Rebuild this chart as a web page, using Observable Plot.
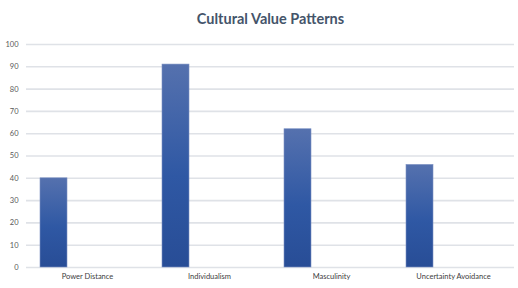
<!DOCTYPE html>
<html>
<head>
<meta charset="utf-8">
<script src="https://cdn.jsdelivr.net/npm/d3@7"></script>
<script src="https://cdn.jsdelivr.net/npm/@observablehq/plot@0.6"></script>
<style>
  html, body { margin: 0; padding: 0; background: #ffffff; }
  #chart svg { display: block; }
</style>
</head>
<body>
<div id="chart"></div>
<script>
const title = "Cultural Value Patterns";
const categories = ["Power Distance", "Individualism", "Masculinity", "Uncertainty Avoidance"];
const values = [40, 91, 62, 46];
const yTicks = [0, 10, 20, 30, 40, 50, 60, 70, 80, 90, 100];

const data = categories.map((c, i) => ({ category: c, value: values[i] }));

const defs = () => {
  const d = d3.create("svg:defs");
  const g = d.append("linearGradient")
    .attr("id", "barGrad")
    .attr("x1", 0).attr("y1", 0).attr("x2", 0).attr("y2", 1);
  g.append("stop").attr("offset", "0%").attr("stop-color", "#5571ae");
  g.append("stop").attr("offset", "55%").attr("stop-color", "#2f58a4");
  g.append("stop").attr("offset", "100%").attr("stop-color", "#284d96");
  return d.node();
};

const chart = Plot.plot({
  width: 518,
  height: 288,
  marginTop: 44,
  marginBottom: 21,
  marginLeft: 26,
  marginRight: 4,
  style: { fontFamily: "Lato, 'Open Sans', sans-serif", background: "#ffffff" },
  x: { domain: categories, padding: 0, label: null, tickSize: 0, tickPadding: 5 },
  y: { domain: [0, 100], ticks: yTicks, label: null, tickSize: 0, tickPadding: 8 },
  marks: [
    defs,
    Plot.gridY(yTicks, { stroke: "#dfe2e7", strokeOpacity: 1, strokeWidth: 1.6 }),
    Plot.barY(data, {
      x: "category", y: "value",
      insetLeft: 14, insetRight: 81,
      fill: "url(#barGrad)",
      stroke: "#7d92c4", strokeWidth: 0.6
    }),
    Plot.axisY(yTicks, { tickSize: 0, tickPadding: 8, fontSize: 7.5, fill: "#595959", label: null }),
    Plot.axisX({ tickSize: 0, tickPadding: 6, fontSize: 7.5, fill: "#404040", label: null }),
    Plot.text([title], {
      frameAnchor: "top", dy: -31,
      fontSize: 14.5, fontWeight: "bold", fill: "#44546a"
    })
  ]
});

document.getElementById("chart").appendChild(chart);
</script>
</body>
</html>
